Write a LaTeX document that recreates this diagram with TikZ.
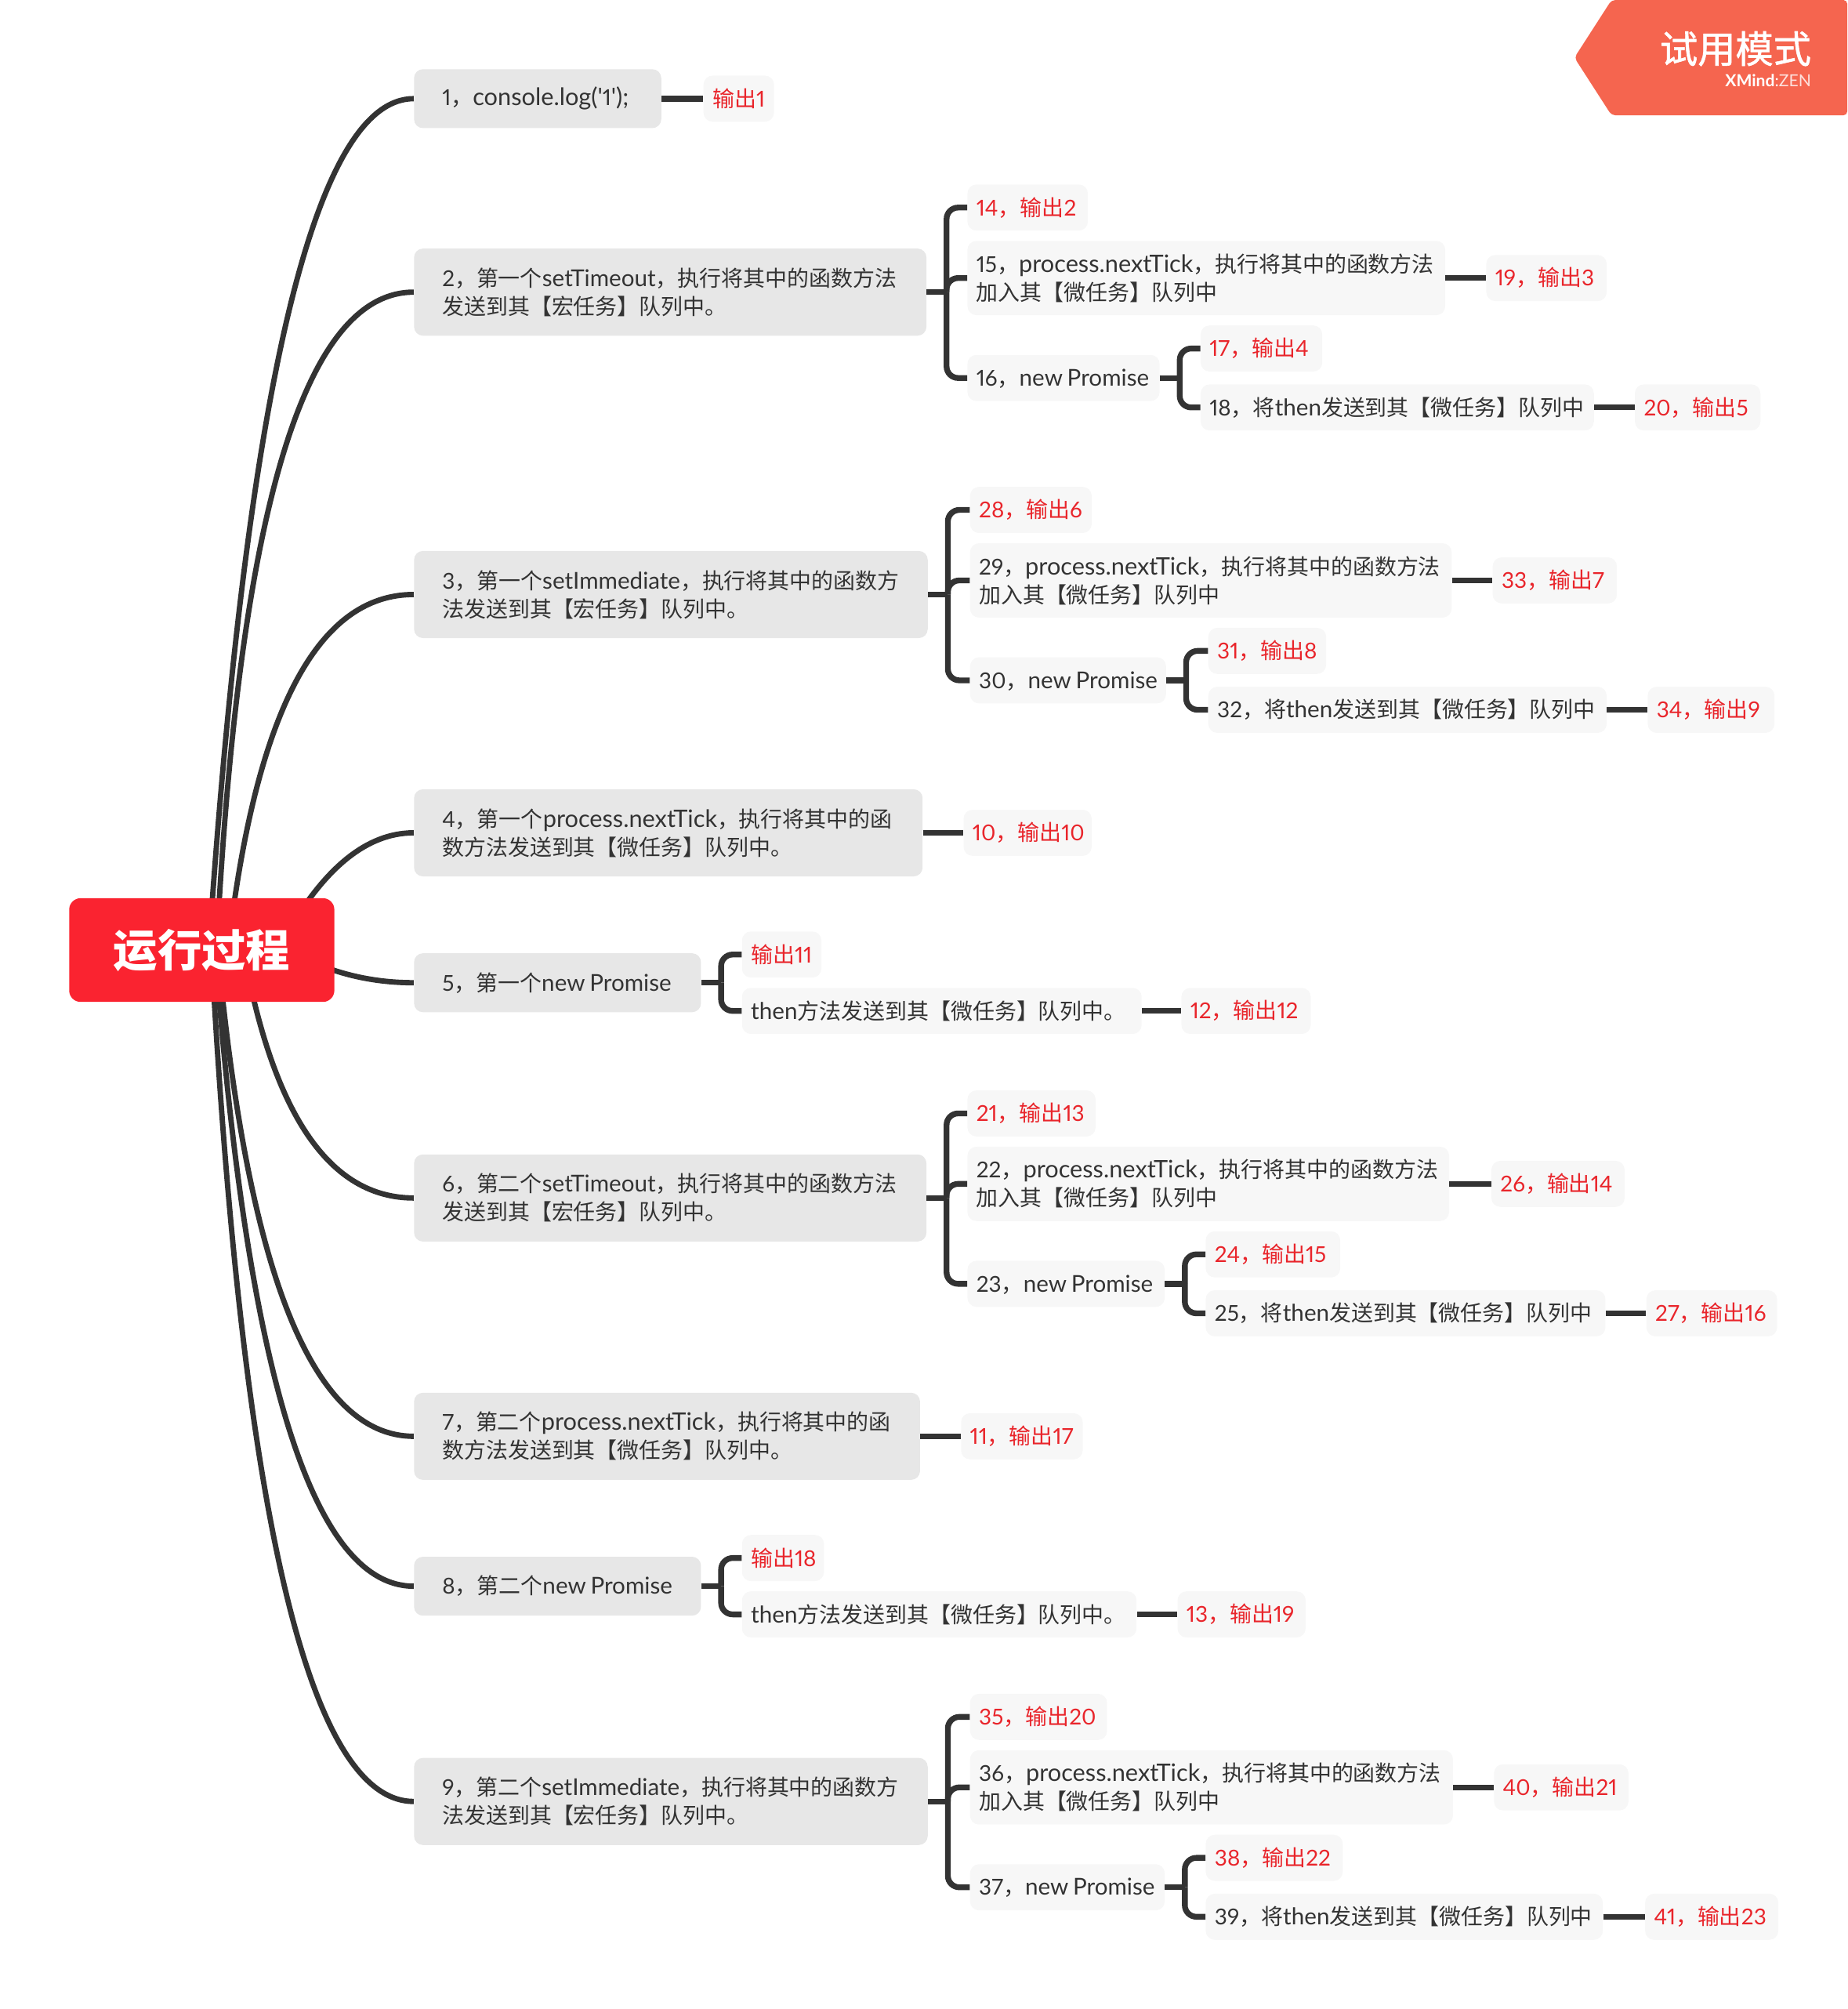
\documentclass[tikz,border=0pt]{standalone}
\usepackage{fontspec}
\usetikzlibrary{calc,backgrounds}
\newfontfamily\latf[Scale=1.06,Numbers=Proportional]{Lato}
\newfontfamily\latw[Scale=1.10,Numbers=Proportional]{Lato}
\newfontfamily\latd[Numbers=Proportional]{Lato}
\newfontfamily\cjk{Noto Sans CJK SC}
\newfontfamily\cjkm[FakeBold=1.2]{Noto Sans CJK SC}
% automatic switch between the Latin, digit and CJK fonts
\newcount\cc
\cc="4E00 \loop \XeTeXcharclass\cc=7 \advance\cc 1 \ifnum\cc<"A000 \repeat
\cc="3000 \loop \XeTeXcharclass\cc=7 \advance\cc 1 \ifnum\cc<"3040 \repeat
\cc="FF00 \loop \XeTeXcharclass\cc=7 \advance\cc 1 \ifnum\cc<"FFF0 \repeat
\cc=`0 \loop \XeTeXcharclass\cc=8 \advance\cc 1 \ifnum\cc<`: \repeat
\XeTeXinterchartoks 0 7 = {\cjk}
\XeTeXinterchartoks 4095 7 = {\cjk}
\XeTeXinterchartoks 7 0 = {\latf}
\XeTeXinterchartoks 4095 8 = {\latd}
\XeTeXinterchartoks 7 8 = {\latd}
\XeTeXinterchartoks 0 8 = {\latd}
\XeTeXinterchartoks 8 0 = {\latf}
\XeTeXinterchartoks 8 7 = {\cjk}
\XeTeXinterchartokenstate=1
\definecolor{ink}{HTML}{333333}
\definecolor{redt}{HTML}{E9252B}
\definecolor{topicf}{HTML}{E7E7E7}
\definecolor{subf}{HTML}{F7F7F7}
\definecolor{rootf}{HTML}{FA2330}
\definecolor{badgef}{HTML}{F5654F}
\tikzset{
  base/.style={rectangle,rounded corners=7pt,anchor=west,inner ysep=0pt,align=left,
    font=\latf\fontsize{17.1}{22}\selectfont},
  topic/.style={base,fill=topicf,text=ink,inner xsep=22pt},
  subt/.style={base,fill=subf,text=ink,inner xsep=7pt},
  outp/.style={base,fill=subf,text=redt,inner xsep=7pt},
  link/.style={draw=ink,line width=4.5pt},
  curve/.style={draw=ink,line width=4.2pt},
}
\newcommand\hgt{{\cjk\vphantom{中}}}
\newcommand\pnt{{\latw process.nextTick}}
\newcommand\npr{new\kern3.5pt Promise}
\newcommand\tp[6]{\pgfmathsetmacro\nw{#3-#2-44}\node[topic,text width=\nw pt,minimum height=#5pt] (#1) at (#2,-#4) {\hgt #6};}
\newcommand\sbn[6]{\pgfmathsetmacro\nw{#3-#2-14}\node[subt,text width=\nw pt,minimum height=#5pt] (#1) at (#2,-#4) {\hgt #6};}
\newcommand\ot[5]{\pgfmathsetmacro\nw{#3-#2-14}\node[outp,text width=\nw pt,minimum height=36pt] (#1) at (#2,-#4) {\hgt #5};}
% quadratic curve from the root to a topic
\newcommand\cv[3]{%
  \coordinate (S) at ($(root.center)+(#1-157.5,0)$);
  \coordinate (C) at ($(#3.west)+(-#2,0)$);
  \draw[curve] (S) .. controls ($(S)!.667!(C)$) and ($(#3.west)!.667!(C)$) .. (#3.west);}
% bracket from a parent to its children
\newcommand\br[2]{%
  \coordinate (B) at ($(#1.east)+(15.5,0)$);
  \draw[link] (#1.east) -- (B);
  \foreach \ch in {#2} {\draw[link,rounded corners=9pt] (B) |- (\ch.west);}}
\newcommand\lk[2]{\draw[link] (#1.east) -- (#2.west);}
\begin{document}
\begin{tikzpicture}[x=1pt,y=1pt]
\useasboundingbox (0,0) rectangle (1442,-1568);
% badge
\fill[badgef,rounded corners=3pt] (1258,0) -- (1442,0) -- (1442,-90) -- (1258,-90) -- (1229,-45) -- cycle;
\node[anchor=east,inner sep=0pt,text=white,font=\cjkm\fontsize{29.5}{32}\selectfont] (badge) at (1414,-38) {\XeTeXinterchartokenstate=0 试用模式};
\node[anchor=east,inner sep=0pt,text=white,font=\latf\fontsize{12.2}{12}\selectfont] (brand) at (1414,-63) {\textbf{XMind}:\textcolor{white!80!badgef}{ZEN}};
% root
\node[rectangle,rounded corners=9pt,fill=rootf,text=white,anchor=center,inner sep=0pt,minimum width=207pt,minimum height=81pt,font=\cjk\bfseries\fontsize{34.5}{38}\selectfont] (root) at (157.5,-741.5) {运行过程};
% topics
\tp{n1}{323}{516}{77}{46}{1，{\latw console.log('}1{\latw ');}}
\tp{n2}{323}{723}{228}{68}{2，第一个setTimeout，执行将其中的函数方法\\发送到其【宏任务】队列中。}
\tp{n3}{323}{724}{464}{68}{3，第一个setImmediate，执行将其中的函数方\\法发送到其【宏任务】队列中。}
\tp{n4}{323}{720}{650}{68}{4，第一个\pnt，执行将其中的函\\数方法发送到其【微任务】队列中。}
\tp{n5}{323}{547}{767}{46}{5，第一个\npr}
\tp{n6}{323}{723}{935}{68}{6，第二个setTimeout，执行将其中的函数方法\\发送到其【宏任务】队列中。}
\tp{n7}{323}{718}{1121}{68}{7，第二个\pnt，执行将其中的函\\数方法发送到其【微任务】队列中。}
\tp{n8}{323}{547}{1238}{46}{8，第二个\npr}
\tp{n9}{323}{724}{1406}{68}{9，第二个setImmediate，执行将其中的函数方\\法发送到其【宏任务】队列中。}
% group 1
\ot{a1}{549}{604}{77}{输出1}
% group 2
\ot{a14}{755}{849}{162}{14，输出2}
\sbn{a15}{755}{1128}{217}{58}{15，\pnt，执行将其中的函数方法\\加入其【微任务】队列中}
\ot{a19}{1160}{1254}{217}{19，输出3}
\sbn{a16}{755}{905}{295}{36}{16，\npr}
\ot{a17}{937}{1032}{272}{17，输出4}
\sbn{a18}{937}{1244}{318}{36}{18，将then发送到其【微任务】队列中}
\ot{a20}{1276}{1374}{318}{20，输出5}
% group 3
\ot{a28}{757}{852}{398}{28，输出6}
\sbn{a29}{757}{1133}{453}{58}{29，\pnt，执行将其中的函数方法\\加入其【微任务】队列中}
\ot{a33}{1165}{1262}{453}{33，输出7}
\sbn{a30}{757}{910}{531}{36}{30，\npr}
\ot{a31}{943}{1035}{508}{31，输出8}
\sbn{a32}{943}{1254}{554}{36}{32，将then发送到其【微任务】队列中}
\ot{a34}{1286}{1385}{554}{34，输出9}
% group 4
\ot{a10}{752}{852}{650}{10，输出10}
% group 5
\ot{b11}{579}{641}{745}{输出11}
\sbn{b5}{579}{891}{789}{36}{then方法发送到其【微任务】队列中。}
\ot{a12}{922}{1023}{789}{12，输出12}
% group 6
\ot{a21}{755}{855}{869}{21，输出13}
\sbn{a22}{755}{1131}{924}{58}{22，\pnt，执行将其中的函数方法\\加入其【微任务】队列中}
\ot{a26}{1164}{1268}{924}{26，输出14}
\sbn{a23}{755}{909}{1002}{36}{23，\npr}
\ot{a24}{941}{1046}{979}{24，输出15}
\sbn{a25}{941}{1253}{1025}{36}{25，将then发送到其【微任务】队列中}
\ot{a27}{1285}{1387}{1025}{27，输出16}
% group 7
\ot{a11}{750}{845}{1121}{11，输出17}
% group 8
\ot{b18}{579}{643}{1216}{输出18}
\sbn{b8}{579}{887}{1260}{36}{then方法发送到其【微任务】队列中。}
\ot{a13}{919}{1019}{1260}{13，输出19}
% group 9
\ot{a35}{757}{864}{1340}{35，输出20}
\sbn{a36}{757}{1134}{1395}{58}{36，\pnt，执行将其中的函数方法\\加入其【微任务】队列中}
\ot{a40}{1166}{1271}{1395}{40，输出21}
\sbn{a37}{757}{909}{1473}{36}{37，\npr}
\ot{a38}{941}{1048}{1450}{38，输出22}
\sbn{a39}{941}{1251}{1496}{36}{39，将then发送到其【微任务】队列中}
\ot{a41}{1284}{1388}{1496}{41，输出23}
% connectors
\begin{pgfonlayer}{background}
\cv{163}{115}{n1}
\cv{169}{128}{n2}
\cv{178}{113}{n3}
\cv{217}{58}{n4}
\cv{225}{53}{n5}
\cv{190}{98}{n6}
\cv{170}{118}{n7}
\cv{168}{118}{n8}
\cv{165}{122}{n9}
\end{pgfonlayer}
\lk{n1}{a1}
\br{n2}{a14,a15,a16}
\lk{a15}{a19}
\br{a16}{a17,a18}
\lk{a18}{a20}
\br{n3}{a28,a29,a30}
\lk{a29}{a33}
\br{a30}{a31,a32}
\lk{a32}{a34}
\lk{n4}{a10}
\br{n5}{b11,b5}
\lk{b5}{a12}
\br{n6}{a21,a22,a23}
\lk{a22}{a26}
\br{a23}{a24,a25}
\lk{a25}{a27}
\lk{n7}{a11}
\br{n8}{b18,b8}
\lk{b8}{a13}
\br{n9}{a35,a36,a37}
\lk{a36}{a40}
\br{a37}{a38,a39}
\lk{a39}{a41}
\end{tikzpicture}
\end{document}
